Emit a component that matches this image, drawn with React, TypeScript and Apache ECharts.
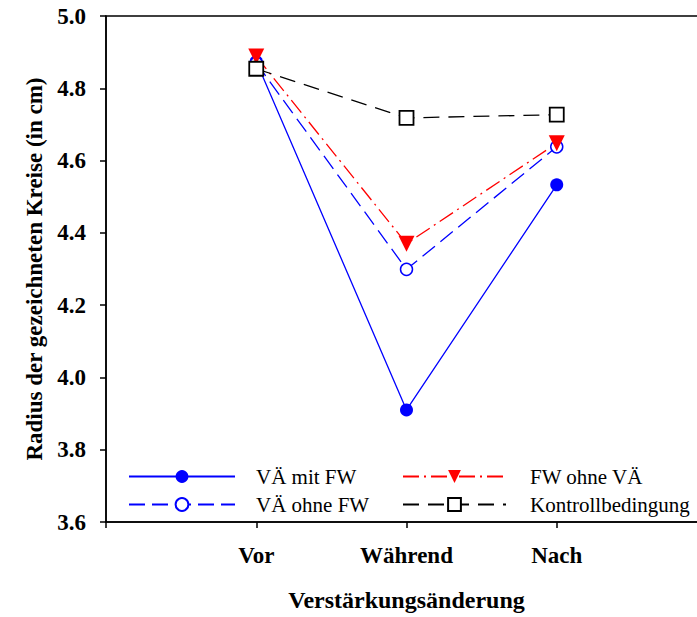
import React, { useEffect, useRef } from "react";
import * as echarts from "echarts";

const categories = ["", "Vor", "Während", "Nach", ""];
const vaMitFW = [null, 4.874, 3.91, 4.533, null];
const vaOhneFW = [null, 4.87, 4.299, 4.638, null];
const fwOhneVA = [null, 4.888, 4.37, 4.648, null];
const kontroll = [null, 4.854, 4.718, 4.727, null];
const yMin = 3.6;
const yMax = 5.0;
const yStep = 0.2;

const seriesNames = ["VÄ mit FW", "VÄ ohne FW", "FW ohne VÄ", "Kontrollbedingung"];

export default function App() {
  const ref = useRef<HTMLDivElement>(null);
  useEffect(() => {
    if (!ref.current) return;
    const chart = echarts.init(ref.current, null, { renderer: "svg" });
    const serif = "Liberation Serif";
    const legendText = { fontFamily: serif, fontSize: 21, color: "#000", lineHeight: 16 };
    chart.setOption({
      animation: false,
      backgroundColor: "#fff",
      textStyle: { fontFamily: serif },
      grid: {
        left: 106,
        top: 16,
        width: 601,
        height: 509,
        show: true,
        borderColor: "#000",
        borderWidth: 1.5,
        backgroundColor: "transparent",
      },
      legend: [
        {
          data: [seriesNames[0], seriesNames[1]],
          orient: "vertical",
          left: 123,
          top: 461,
          itemWidth: 106,
          itemHeight: 16,
          itemGap: 7,
          textStyle: { ...legendText, padding: [0, 0, 0, 16] },
        },
        {
          data: [seriesNames[2], seriesNames[3]],
          orient: "vertical",
          left: 397,
          top: 461,
          itemWidth: 103,
          itemHeight: 16,
          itemGap: 7,
          textStyle: { ...legendText, padding: [0, 0, 0, 19] },
        },
      ],
      xAxis: {
        type: "category",
        data: categories,
        boundaryGap: false,
        name: "Verstärkungsänderung",
        nameLocation: "middle",
        nameGap: 66,
        nameTextStyle: { fontFamily: serif, fontSize: 24, fontWeight: "bold", color: "#000" },
        axisLine: { lineStyle: { color: "#000", width: 1.5 } },
        axisTick: { show: true, length: 6, inside: false, alignWithLabel: true, lineStyle: { color: "#000", width: 1.5 } },
        axisLabel: { fontFamily: serif, fontSize: 23, fontWeight: "bold", color: "#000", margin: 22, interval: 0 },
        splitLine: { show: false },
      },
      yAxis: {
        type: "value",
        min: yMin,
        max: yMax,
        interval: yStep,
        name: "Radius der gezeichneten Kreise (in cm)",
        nameLocation: "middle",
        nameGap: 60,
        nameTextStyle: { fontFamily: serif, fontSize: 23, fontWeight: "bold", color: "#000" },
        axisLine: { show: true, lineStyle: { color: "#000", width: 1.5 } },
        axisTick: { show: true, length: 6, inside: false, lineStyle: { color: "#000", width: 1.5 } },
        axisLabel: {
          fontFamily: serif,
          fontSize: 23,
          fontWeight: "bold",
          color: "#000",
          margin: 20,
          formatter: (v: number) => v.toFixed(1),
        },
        splitLine: { show: false },
      },
      series: [
        {
          name: seriesNames[0],
          type: "line",
          data: vaMitFW,
          symbol: "circle",
          symbolSize: 13,
          itemStyle: { color: "#0000ff" },
          lineStyle: { color: "#0000ff", width: 1.3, type: "solid" },
        },
        {
          name: seriesNames[1],
          type: "line",
          data: vaOhneFW,
          symbol: "circle",
          symbolSize: 12,
          itemStyle: { color: "#fff", borderColor: "#0000ff", borderWidth: 1.5 },
          lineStyle: { color: "#0000ff", width: 1.3, type: [16, 7] },
        },
        {
          name: seriesNames[2],
          type: "line",
          data: fwOhneVA,
          symbol: "triangle",
          symbolRotate: 180,
          symbolSize: 16,
          itemStyle: { color: "#ff0000" },
          lineStyle: { color: "#ff0000", width: 1.3, type: [16, 5, 2, 5] },
        },
        {
          name: seriesNames[3],
          type: "line",
          data: kontroll,
          symbol: "rect",
          symbolSize: 14,
          itemStyle: { color: "#fff", borderColor: "#000", borderWidth: 1.8 },
          lineStyle: { color: "#000", width: 1.3, type: [16, 9] },
        },
      ],
    });
    return () => chart.dispose();
  }, []);
  return (
    <div
      ref={ref}
      style={{ position: "fixed", left: 0, top: 0, width: 712, height: 617, background: "#fff" }}
    />
  );
}
